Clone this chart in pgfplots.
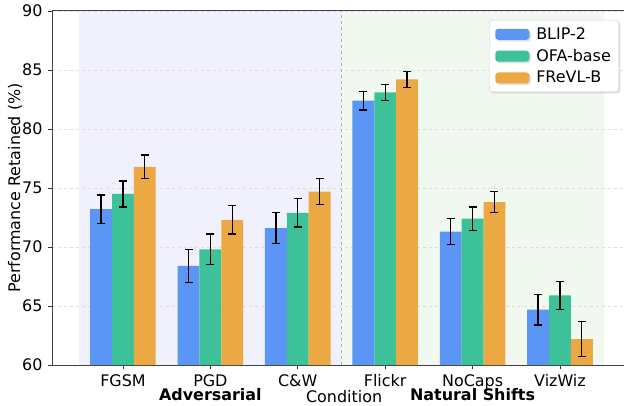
\documentclass[border=0pt]{standalone}
\usepackage{fontspec}
\setmainfont{DejaVu Sans}
\usepackage{pgfplots}
\pgfplotsset{compat=1.18}
\usepackage{pgfplotstable}
\usetikzlibrary{shadows,calc}
\definecolor{cblue}{HTML}{5B95F5}
\definecolor{cgreen}{HTML}{3DC198}
\definecolor{corange}{HTML}{ECA843}
\definecolor{bgadv}{HTML}{F1F1FD}
\definecolor{bgnat}{HTML}{F1F8F0}
\definecolor{gridc}{HTML}{DDDDDD}
\pgfplotstableread{
x y e
-0.25 73.2 1.2
0.75 68.4 1.4
1.75 71.6 1.3
2.75 82.4 0.8
3.75 71.3 1.1
4.75 64.7 1.3
}\blip
\pgfplotstableread{
x y e
0 74.5 1.1
1 69.8 1.3
2 72.9 1.2
3 83.1 0.7
4 72.4 1.0
5 65.9 1.2
}\ofa
\pgfplotstableread{
x y e
0.25 76.8 1.0
1.25 72.3 1.2
2.25 74.7 1.1
3.25 84.2 0.7
4.25 73.8 0.9
5.25 62.2 1.5
}\frevl
\newcommand\fs{\fontsize{16}{19}\selectfont}
\begin{document}
\fs
\begin{tikzpicture}
\begin{axis}[
  set layers,
  clip=false,
  scale only axis,
  width=580bp, height=354bp,
  xmin=-0.812, xmax=5.824,
  ymin=60, ymax=90,
  ytick={60,65,...,90},
  xtick={0,1,2,3,4,5},
  xticklabels={FGSM,PGD,C\&W,Flickr,NoCaps,VizWiz},
  /pgf/number format/assume math mode=true,
  tick label style={font=\fs},
  tick align=outside,
  xtick pos=bottom, ytick pos=left,
  major tick length=4bp,
  tick style={black!80, line width=0.8bp},
  axis line style={black!75, line width=1bp},
  ymajorgrids,
  grid style={gridc, dashed, line width=0.6bp},
  legend style={at={(rel axis cs:0.9776,0.9746)}, anchor=north east,
    font=\fs, rounded corners=3bp,
    draw=black!20, fill=white, drop shadow={opacity=0.25, shadow xshift=1.5bp, shadow yshift=-1.5bp},
    row sep=3.5bp, column sep=5bp, inner xsep=6bp, inner ysep=5bp},
  legend cell align=left,
  legend image code/.code={\fill[#1] (0bp,-5.5bp) rectangle (34bp,5.5bp);},
  error bars/error bar style={black, line width=1.3bp},
  error bars/error mark options={black, rotate=90, mark size=4bp, line width=1.3bp},
  mybar/.style={ybar, bar width=0.25, bar shift=0pt, draw=none},
]
\addplot[fill=bgadv, draw=none, on layer=axis background, forget plot, mark=none] coordinates {(-0.5,60) (-0.5,90) (2.5,90) (2.5,60)} -- cycle;
\addplot[fill=bgnat, draw=none, on layer=axis background, forget plot, mark=none] coordinates {(2.5,60) (2.5,90) (5.5,90) (5.5,60)} -- cycle;
\addplot[mybar, fill=cblue, error bars/.cd, y dir=both, y explicit] table[x=x, y=y, y error=e] {\blip};
\addplot[mybar, fill=cgreen, error bars/.cd, y dir=both, y explicit] table[x=x, y=y, y error=e] {\ofa};
\addplot[mybar, fill=corange, error bars/.cd, y dir=both, y explicit] table[x=x, y=y, y error=e] {\frevl};
\legend{BLIP-2, OFA-base, FReVL-B}
\draw[black!30, dashed, line width=1bp] (axis cs:2.5,60) -- (axis cs:2.5,90);
\node[anchor=base, font=\fs\bfseries] at ([yshift=-35bp]axis cs:1,60) {Adversarial};
\node[anchor=base, font=\fs\bfseries] at ([yshift=-35bp]axis cs:4,60) {Natural Shifts};
\node[anchor=base, font=\fs] at ([yshift=-37bp]axis cs:2.53,60) {Condition};
\node[rotate=90, anchor=center, font=\fs] at ([xshift=-37bp]rel axis cs:0,0.5) {Performance Retained (\%)};
\end{axis}
\pgfresetboundingbox
\useasboundingbox (-52bp,-41bp) rectangle (572bp,365bp);
\end{tikzpicture}
\end{document}
